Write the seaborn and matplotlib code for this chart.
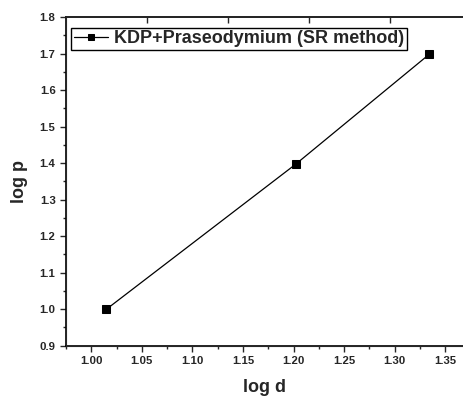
import matplotlib
matplotlib.use("Agg")
import matplotlib.pyplot as plt
import seaborn as sns
import pandas as pd

log_d = [1.015, 1.202, 1.334]
log_p = [1.000, 1.397, 1.698]
series_name = "KDP+Praseodymium (SR method)"

df = pd.DataFrame({"log d": log_d, "log p": log_p})

sns.set_style("ticks")
plt.rcParams["font.family"] = ["Liberation Sans", "DejaVu Sans"]
plt.rcParams["font.weight"] = "bold"

fig = plt.figure(figsize=(4.63, 3.99), dpi=100)
ax = fig.add_axes([0.1425, 0.1335, 0.8575, 0.8235])

sns.lineplot(data=df, x="log d", y="log p", ax=ax, color="black", lw=0.9,
             marker="s", markersize=6, markeredgecolor="black",
             label=series_name)

ax.set_xlim(0.975, 1.3675)
ax.set_ylim(0.9, 1.8)
ax.set_xticks([1.00, 1.05, 1.10, 1.15, 1.20, 1.25, 1.30, 1.35])
ax.set_xticks([0.975, 1.025, 1.075, 1.125, 1.175, 1.225, 1.275, 1.325], minor=True)
ax.set_yticks([0.9, 1.0, 1.1, 1.2, 1.3, 1.4, 1.5, 1.6, 1.7, 1.8])
ax.set_yticks([0.95, 1.05, 1.15, 1.25, 1.35, 1.45, 1.55, 1.65, 1.75], minor=True)
ax.xaxis.set_major_formatter(matplotlib.ticker.FormatStrFormatter("%.2f"))
ax.yaxis.set_major_formatter(matplotlib.ticker.FormatStrFormatter("%.1f"))
ax.tick_params(axis="both", which="major", length=4, width=1, labelsize=8.2, direction="out")
ax.tick_params(axis="both", which="minor", length=2, width=1, direction="out")
for lab in ax.get_xticklabels() + ax.get_yticklabels():
    lab.set_fontweight("bold")

ax.set_xlabel("log d", fontsize=13, fontweight="bold", labelpad=9)
ax.set_ylabel("log p", fontsize=13, fontweight="bold", labelpad=8)

for s in ["left", "bottom", "top"]:
    ax.spines[s].set_linewidth(1.2)
    ax.spines[s].set_color("black")
ax.spines["right"].set_visible(False)

# top axis ticks (no labels)
top = ax.twiny()
top.set_xlim(ax.get_xlim())
top.set_xticks([1.0547, 1.1348, 1.2148, 1.2949])
top.tick_params(axis="x", direction="in", length=4, width=1, labeltop=False)
top.spines["right"].set_visible(False)
top.spines["top"].set_linewidth(1.2)

leg = ax.legend(loc="upper left", bbox_to_anchor=(0.0, 0.985), frameon=True,
                fancybox=False, edgecolor="black", framealpha=1,
                prop={"weight": "bold", "size": 13}, handlelength=1.9,
                handletextpad=0.3, borderpad=0.15, borderaxespad=0.3,
                markerscale=0.8)
leg.get_frame().set_linewidth(1.0)

fig.savefig("out.png", dpi=100)
